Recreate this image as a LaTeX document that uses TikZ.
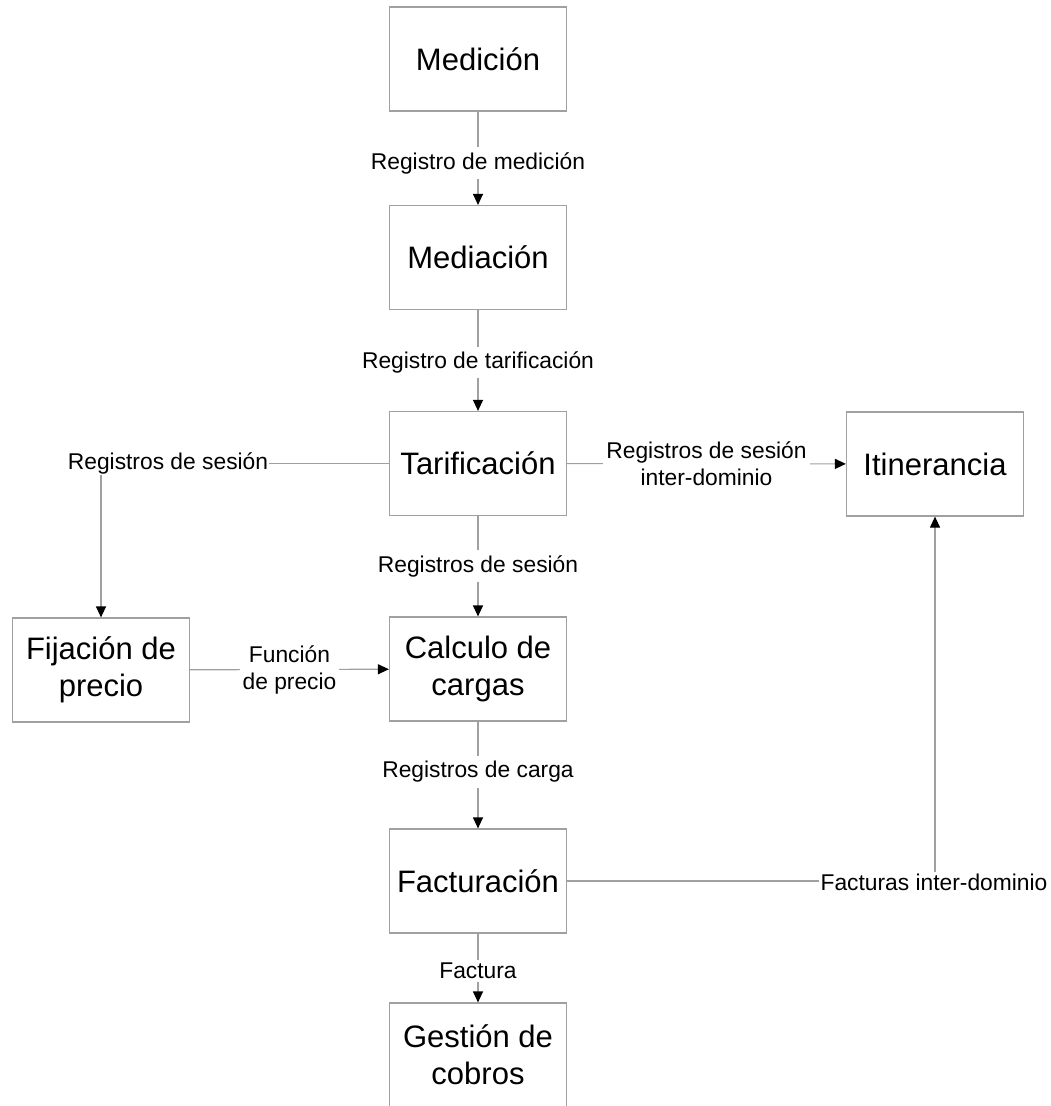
\documentclass[tikz,border=0pt]{standalone}
\usepackage{fontspec}
\setmainfont{Liberation Sans}
\usetikzlibrary{arrows.meta}
\definecolor{linegray}{HTML}{A0A0A0}
\tikzset{
  box/.style={draw=linegray, line width=1.2pt, minimum width=177pt, minimum height=104pt,
    inner sep=0pt, align=center, font=\fontsize{31}{37}\selectfont},
  lbl/.style={fill=white, inner sep=5pt, align=center, font=\fontsize{22.8}{27}\selectfont},
  conn/.style={draw=linegray, line width=1.2pt},
  arr/.style={conn, -{Triangle[width=10pt,length=11pt,color=black]}}
}
\begin{document}
\begin{tikzpicture}[x=1pt,y=-1pt]
\useasboundingbox (0,0) rectangle (1050,1106);
\clip (0,0) rectangle (1050,1106);
\node[box] (med) at (478,59) {Medición};
\node[box] (mdn) at (478,257.5) {Mediación};
\node[box] (tar) at (478,463.5) {Tarificación};
\node[box] (iti) at (935,464) {Itinerancia};
\node[box] (fij) at (101,670) {Fijación de\\precio};
\node[box] (cal) at (478,669) {Calculo de\\cargas};
\node[box] (fac) at (478,881) {Facturación};
\node[box] (ges) at (478,1055) {Gestión de\\cobros};

\draw[arr] (med) -- (mdn) node[lbl, pos=0.5, yshift=-5pt] (l1) {Registro de medición};
\draw[arr] (mdn) -- (tar) node[lbl, pos=0.5, yshift=-2pt] (l2) {Registro de tarificación};

\node[lbl, inner sep=1pt] (rs1) at (168,463.5) {Registros de sesión};
\draw[conn] (tar.west) -- (tar.west -| rs1.east);
\draw[arr] (fij.north |- rs1.south) -- (fij.north);

\draw[arr] (tar) -- (cal) node[lbl, pos=0.5] (l3) {Registros de sesión};
\draw[arr] (fij) -- (cal) node[lbl, pos=0.5, inner sep=3pt] (l4) {Función\\de precio};
\draw[arr] (tar) -- (iti) node[lbl, pos=0.5, inner sep=3pt] (l5) {Registros de sesión\\inter-dominio};
\draw[arr] (cal) -- (fac) node[lbl, pos=0.5, yshift=3pt] (l6) {Registros de carga};
\draw[arr] (fac) -- (ges) node[lbl, pos=0.5, yshift=-3pt, inner sep=3pt] (l7) {Factura};

\node[lbl, inner sep=1pt] (fi) at (934,882) {Facturas inter-dominio};
\draw[conn] (fac.east) -- (fac.east -| fi.west);
\draw[arr] (iti.south |- fi.north) -- (iti.south);
\end{tikzpicture}
\end{document}
